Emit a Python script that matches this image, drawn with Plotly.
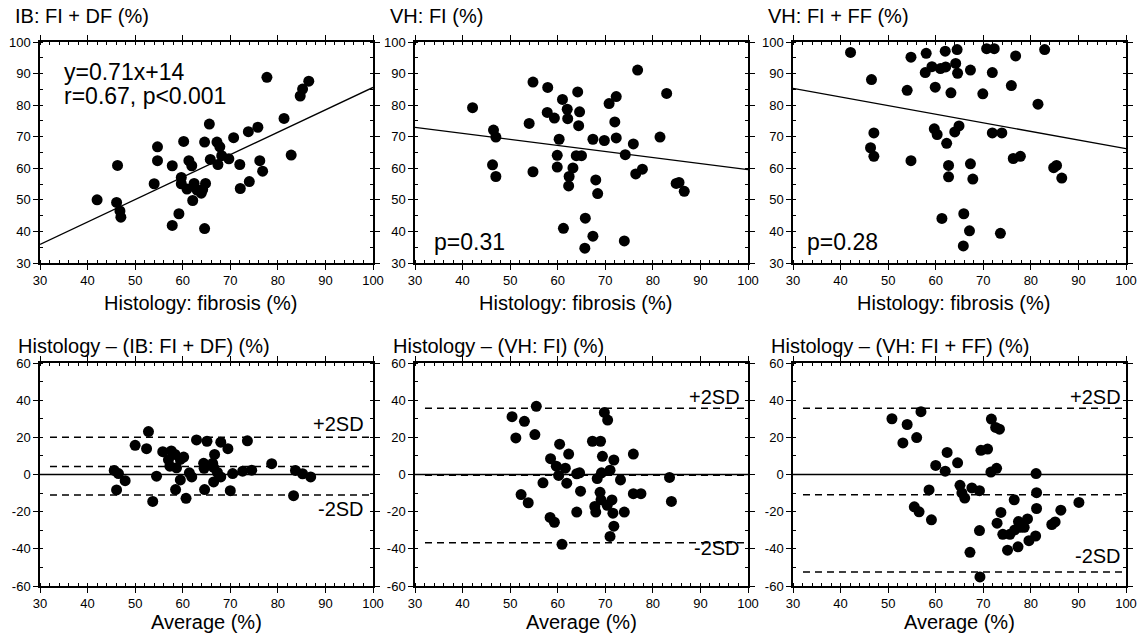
import plotly.graph_objects as go

# ---------------- data ----------------
# Top row: Histology fibrosis (x) vs imaging measure (y)
ib_x = [42.0, 46.1, 46.8, 47.0, 46.3, 54.0, 54.7, 54.7, 57.8, 57.8, 59.2, 59.7, 59.7, 60.2, 60.9,
        61.3, 61.9, 62.1, 62.4, 63.0, 63.9, 64.2, 64.6, 64.8, 64.6, 65.6, 65.8, 67.2, 67.4, 67.8,
        68.2, 69.7, 70.7, 72.0, 72.1, 73.8, 74.0, 75.8, 76.2, 76.8, 77.7, 81.3, 82.8, 84.7, 85.2, 86.5]
ib_y = [50.0, 49.2, 46.5, 44.5, 60.9, 55.1, 66.8, 62.4, 60.8, 41.9, 45.6, 57.1, 55.1, 68.5, 53.4,
        62.4, 60.8, 49.8, 55.2, 53.1, 52.1, 53.3, 68.3, 55.2, 40.9, 74.0, 62.8, 68.3, 61.2, 66.8,
        64.0, 63.0, 69.7, 61.2, 53.6, 71.6, 55.8, 73.0, 62.4, 59.1, 88.8, 75.8, 64.2, 82.9, 85.1, 87.6]

vhfi_x = [42.1, 54.8, 57.9, 57.8, 59.3, 61.0, 62.0, 62.1, 64.2, 64.6, 64.4, 54.0, 46.5, 47.0, 46.3,
          47.0, 54.8, 60.3, 59.9, 59.9, 62.3, 63.2, 62.4, 63.9, 65.0, 61.2, 65.8, 65.7, 67.4, 67.4,
          68.0, 68.4, 69.8, 70.8, 72.3, 72.0, 72.3, 74.0, 74.2, 75.9, 76.4, 77.8, 76.8, 81.5, 82.9,
          84.9, 85.5, 86.6]
vhfi_y = [79.2, 87.3, 85.6, 77.7, 75.9, 81.8, 78.7, 75.7, 84.2, 77.9, 73.5, 74.2, 72.1, 69.9, 61.1,
          57.4, 58.9, 69.2, 64.1, 60.4, 54.4, 60.1, 57.4, 64.0, 64.0, 41.0, 44.2, 34.7, 38.5, 69.2,
          56.3, 52.0, 68.8, 80.5, 82.7, 74.7, 69.6, 37.0, 64.3, 67.7, 58.2, 59.7, 91.1, 69.9, 83.7,
          55.2, 55.5, 52.7]

vhff_x = [42.1, 54.8, 58.0, 62.0, 64.5, 70.7, 72.3, 76.8, 82.9, 46.5, 57.8, 59.2, 61.0, 62.1, 64.2,
          64.6, 67.3, 71.9, 54.0, 59.9, 63.2, 69.9, 75.9, 81.5, 47.0, 46.3, 47.0, 54.8, 59.7, 60.3,
          62.3, 64.0, 64.9, 62.7, 62.7, 67.3, 67.8, 71.9, 73.9, 76.3, 77.8, 84.8, 85.4, 86.5, 61.3,
          65.9, 67.1, 65.8, 73.6]
vhff_y = [96.7, 95.2, 96.4, 97.1, 97.6, 97.9, 97.9, 95.6, 97.6, 88.1, 90.3, 92.2, 91.6, 92.1, 93.2,
          90.1, 91.1, 90.3, 84.7, 85.7, 83.9, 83.6, 86.2, 80.3, 71.2, 66.5, 63.8, 62.4, 72.5, 70.7,
          67.9, 71.5, 73.4, 60.9, 57.3, 61.4, 56.6, 71.2, 71.2, 63.1, 63.8, 60.2, 60.9, 56.9, 44.1,
          45.6, 40.2, 35.4, 39.4]

# regression lines (slope, intercept)
ib_fit = [0.71, 14.6]
vhfi_fit = [-0.191, 78.7]
vhff_fit = [-0.273, 93.5]

# Bottom row: Bland-Altman (average vs difference)
ba_ib_x = [45.6, 46.5, 47.9, 46.1, 50.0, 52.8, 52.4, 54.5, 53.7, 55.8, 57.6, 57.0, 58.4, 57.3, 58.7,
           60.2, 59.5, 58.5, 59.5, 60.7, 61.4, 61.9, 62.9, 65.1, 64.4, 64.5, 64.6, 66.7, 66.3, 66.5,
           66.5, 67.3, 68.0, 68.0, 69.5, 70.0, 70.5, 73.6, 72.6, 74.5, 78.7, 83.3, 83.7, 85.2, 86.9]
ba_ib_y = [2.2, 0.5, -3.3, -8.3, 15.7, 23.1, 13.9, -0.9, -14.5, 12.3, 12.7, 8.0, 10.8, 4.5, 3.6,
           9.4, 8.1, -8.1, -2.9, -12.8, 0.9, -1.3, 18.6, 17.9, 6.0, 3.3, -8.1, 10.8, 6.0, 3.8,
           -4.0, 1.1, 17.4, -1.3, 13.9, -8.7, 0.5, 18.1, 1.8, 2.3, 5.8, -11.4, 2.2, 0.4, -1.3]

ba_vhfi_x = [50.4, 51.2, 53.0, 55.5, 55.2, 52.3, 53.8, 56.9, 58.5, 59.7, 60.4, 60.2, 61.6, 62.3, 61.9,
             58.4, 59.3, 60.9, 64.0, 64.6, 64.8, 64.0, 67.3, 69.0, 69.8, 70.5, 69.4, 68.3, 69.2, 71.0,
             71.8, 68.9, 69.1, 67.8, 68.0, 70.4, 71.4, 71.6, 71.8, 71.0, 73.2, 74.0, 75.9, 75.9, 77.5,
             83.5, 83.9]
ba_vhfi_y = [31.1, 19.7, 28.6, 36.7, 21.5, -10.8, -15.2, -4.5, 8.5, 4.5, 16.3, -0.5, 3.4, 11.0, -4.7,
             -23.1, -25.7, -37.6, 0.4, 0.9, -9.0, -20.2, 17.9, 17.9, 33.4, 29.3, 9.8, -2.2, 0.9, 2.3,
             7.8, -9.6, -13.6, -17.2, -20.2, -16.6, -13.7, -20.8, -27.8, -33.3, -2.9, -20.2, 11.0, -10.3, -10.3,
             -1.6, -14.5]

ba_vhff_x = [50.8, 54.0, 53.1, 56.0, 56.9, 60.0, 62.4, 62.0, 64.6, 58.6, 55.5, 56.5, 59.1, 65.1, 65.5,
             66.1, 67.6, 69.2, 67.2, 69.2, 69.3, 69.5, 70.9, 71.7, 72.6, 73.4, 71.6, 72.8, 73.7, 72.9,
             74.1, 75.1, 76.5, 75.6, 76.6, 77.4, 77.8, 77.3, 78.6, 79.3, 79.6, 81.0, 81.1, 81.2, 81.2,
             84.4, 85.1, 86.3, 90.1]
ba_vhff_y = [30.0, 26.9, 17.0, 19.9, 33.8, 4.9, 11.9, 1.8, 6.3, -8.3, -17.4, -20.1, -24.4, -5.8, -9.9,
             -12.7, -7.2, -8.7, -41.9, -30.2, -55.1, 13.0, 13.7, 29.8, 25.3, 24.4, 1.3, 3.3, -20.4, -26.2,
             -32.2, -40.7, -13.6, -32.2, -29.8, -25.3, -28.4, -38.9, -28.4, -23.9, -35.6, -33.1, 0.5, -9.8, -18.3,
             -26.9, -25.5, -19.2, -15.0]

# mean difference and +/-2SD limits
ba_ib_lines = [4.3, 20.0, -11.0]
ba_vhfi_lines = [-0.4, 35.6, -36.7]
ba_vhff_lines = [-10.9, 35.6, -52.4]

top_titles = ["IB: FI + DF (%)", "VH: FI (%)", "VH: FI + FF (%)"]
bot_titles = ["Histology \u2013 (IB: FI + DF) (%)", "Histology \u2013 (VH: FI) (%)",
              "Histology \u2013 (VH: FI + FF) (%)"]
top_xtitle = "Histology: fibrosis (%)"
bot_xtitle = "Average (%)"
x_ticks = [30, 40, 50, 60, 70, 80, 90, 100]
top_yticks = [30, 40, 50, 60, 70, 80, 90, 100]
bot_yticks = [-60, -40, -20, 0, 20, 40, 60]
bot_yticktext = ["-60", "-40", "-20", "0", "20", "40", "60"]

# ---------------- layout geometry ----------------
W, H = 1140, 634
FONT = "Liberation Sans, Arial, Helvetica, sans-serif"
col_px = [(40, 373), (415, 748), (793, 1126)]
top_px = (42, 263)
bot_px = (363, 586)

def xd(px):
    return [px[0] / W, px[1] / W]

def yd(px):
    return [1 - px[1] / H, 1 - px[0] / H]

def px_x(p):
    return p / W

def px_y(p):
    return 1 - p / H

fig = go.Figure()

top_data = [(ib_x, ib_y, ib_fit), (vhfi_x, vhfi_y, vhfi_fit), (vhff_x, vhff_y, vhff_fit)]
bot_data = [(ba_ib_x, ba_ib_y, ba_ib_lines), (ba_vhfi_x, ba_vhfi_y, ba_vhfi_lines),
            (ba_vhff_x, ba_vhff_y, ba_vhff_lines)]

marker = dict(color="black", size=11, line=dict(width=0))

def axis_common():
    return dict(showline=True, linecolor="black", linewidth=1.5, mirror="allticks",
                ticks="outside", ticklen=5, tickwidth=1.2, tickcolor="black",
                showgrid=False, zeroline=False, automargin=False,
                tickfont=dict(family=FONT, size=13, color="black"))

layout_axes = {}
annotations = []
shapes = []

title_font = dict(family=FONT, size=20, color="black")

for i in range(3):
    cx = (col_px[i][0] + col_px[i][1]) / 2
    # ---- top row ----
    n = i + 1
    xs, ys, fit = top_data[i]
    xa = "x" if n == 1 else f"x{n}"
    ya = "y" if n == 1 else f"y{n}"
    fig.add_trace(go.Scatter(x=xs, y=ys, mode="markers", marker=marker,
                             xaxis=xa, yaxis=ya, showlegend=False))
    lx = [x_ticks[0], x_ticks[-1]]
    fig.add_trace(go.Scatter(x=lx, y=[fit[0] * v + fit[1] for v in lx], mode="lines",
                             line=dict(color="black", width=1.3), xaxis=xa, yaxis=ya,
                             showlegend=False))
    ax = axis_common()
    ax.update(domain=xd(col_px[i]), anchor=ya, range=[30, 100], tickvals=x_ticks,
              minor=dict(dtick=2, tick0=30, ticks="inside", ticklen=3, tickcolor="black", showgrid=False))
    ay = axis_common()
    ay.update(domain=yd(top_px), anchor=xa, range=[30, 100], tickvals=top_yticks,
              minor=dict(dtick=5, tick0=30, ticks="inside", ticklen=3, tickcolor="black", showgrid=False))
    layout_axes["xaxis" if n == 1 else f"xaxis{n}"] = ax
    layout_axes["yaxis" if n == 1 else f"yaxis{n}"] = ay
    annotations.append(dict(text=top_titles[i], xref="paper", yref="paper",
                            x=px_x(col_px[i][0] - 27), y=px_y(16), xanchor="left", yanchor="middle",
                            showarrow=False, font=title_font))
    annotations.append(dict(text=top_xtitle, xref="paper", yref="paper",
                            x=px_x(cx - 6), y=px_y(303), xanchor="center", yanchor="middle",
                            showarrow=False, font=title_font))

    # ---- bottom row ----
    m = i + 4
    xs, ys, lines = bot_data[i]
    xa = f"x{m}"
    ya = f"y{m}"
    fig.add_trace(go.Scatter(x=xs, y=ys, mode="markers", marker=marker,
                             xaxis=xa, yaxis=ya, showlegend=False))
    ax = axis_common()
    ax.update(domain=xd(col_px[i]), anchor=ya, range=[30, 100], tickvals=x_ticks,
              minor=dict(dtick=2, tick0=30, ticks="inside", ticklen=3, tickcolor="black", showgrid=False))
    ay = axis_common()
    ay.update(domain=yd(bot_px), anchor=xa, range=[-60, 60], tickvals=bot_yticks,
              ticktext=bot_yticktext,
              minor=dict(dtick=10, tick0=-60, ticks="inside", ticklen=3, tickcolor="black", showgrid=False))
    layout_axes[f"xaxis{m}"] = ax
    layout_axes[f"yaxis{m}"] = ay
    annotations.append(dict(text=bot_titles[i], xref="paper", yref="paper",
                            x=px_x(col_px[i][0] - 24), y=px_y(346), xanchor="left", yanchor="middle",
                            showarrow=False, font=title_font))
    annotations.append(dict(text=bot_xtitle, xref="paper", yref="paper",
                            x=px_x(cx), y=px_y(622), xanchor="center", yanchor="middle",
                            showarrow=False, font=title_font))
    # zero line
    shapes.append(dict(type="line", xref=f"{xa} domain", yref=ya, x0=0, x1=1, y0=0, y1=0,
                       line=dict(color="black", width=1.3)))
    for v in lines:
        shapes.append(dict(type="line", xref=f"{xa} domain", yref=ya, x0=0.03, x1=0.995, y0=v, y1=v,
                           line=dict(color="black", width=1.5, dash="7px,5px")))

# in-panel text
ann_font = dict(family=FONT, size=23, color="black")
annotations += [
    dict(text="y=0.71x+14", xref="paper", yref="paper", x=px_x(62), y=px_y(72),
         xanchor="left", yanchor="middle", showarrow=False, font=ann_font),
    dict(text="r=0.67, p<0.001", xref="paper", yref="paper", x=px_x(62), y=px_y(96),
         xanchor="left", yanchor="middle", showarrow=False, font=ann_font),
    dict(text="p=0.31", xref="paper", yref="paper", x=px_x(432), y=px_y(242),
         xanchor="left", yanchor="middle", showarrow=False, font=ann_font),
    dict(text="p=0.28", xref="paper", yref="paper", x=px_x(805), y=px_y(242),
         xanchor="left", yanchor="middle", showarrow=False, font=ann_font),
]
sd_font = dict(family=FONT, size=20, color="black")
sd_pos = [(366, 424, 509), (742, 397, 548), (1123, 397, 556)]
for (xr, yu, yl) in sd_pos:
    annotations.append(dict(text="+2SD", xref="paper", yref="paper", x=px_x(xr), y=px_y(yu),
                            xanchor="right", yanchor="middle", showarrow=False, font=sd_font))
    annotations.append(dict(text="-2SD", xref="paper", yref="paper", x=px_x(xr), y=px_y(yl),
                            xanchor="right", yanchor="middle", showarrow=False, font=sd_font))

fig.update_layout(width=W, height=H, margin=dict(l=0, r=0, t=0, b=0),
                  paper_bgcolor="white", plot_bgcolor="white",
                  font=dict(family=FONT, color="black"), hovermode=False,
                  annotations=annotations, shapes=shapes, **layout_axes)

fig.write_html("out.html", config={"displayModeBar": False},
               post_script="document.body.style.margin='0px';document.body.style.overflow='hidden';")
